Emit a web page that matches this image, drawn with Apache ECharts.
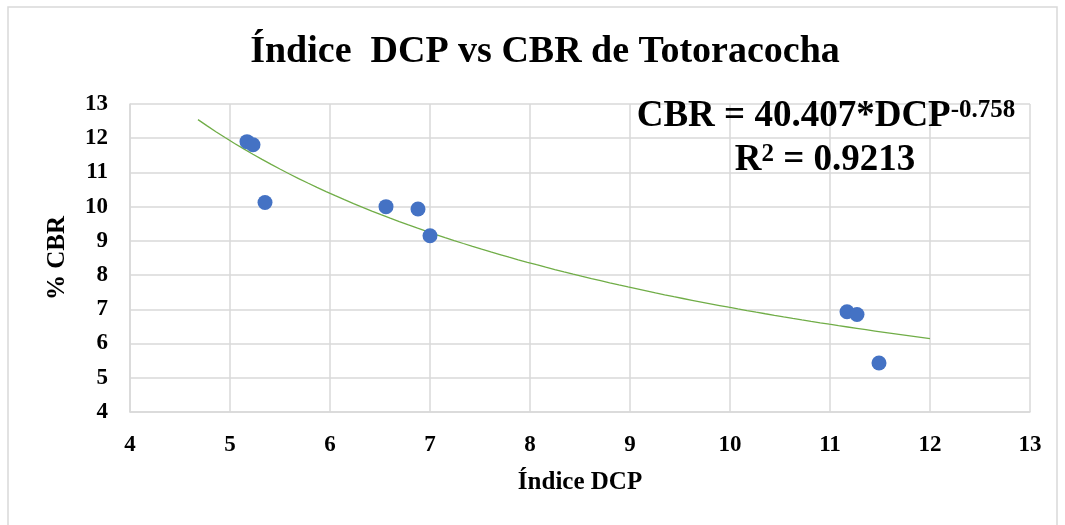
<!DOCTYPE html>
<html>
<head>
<meta charset="utf-8">
<script src="https://cdn.jsdelivr.net/npm/echarts@6/dist/echarts.min.js"></script>
<style>
    html, body { margin: 0; padding: 0; background: #fff; }
    #chart { width: 1065px; height: 525px; }
</style>
</head>
<body>
<div id="chart"></div>
<script>
    // ensayos DCP vs CBR (Totoracocha)
    var dcp = [5.17, 5.23, 5.35, 6.56, 6.88, 7.00, 11.17, 11.27, 11.49];
    var cbr = [11.90, 11.81, 10.12, 10.00, 9.93, 9.15, 6.93, 6.85, 5.43];

    // tendencia potencial que muestra la etiqueta
    var coefA = 40.407;
    var coefB = -0.758;
    var r2 = 0.9213;
    var trendFrom = 4.68;
    var trendTo = 12;

    var xTicks = [4, 5, 6, 7, 8, 9, 10, 11, 12, 13];
    var yTicks = [4, 5, 6, 7, 8, 9, 10, 11, 12, 13];

    var FONT = '"Liberation Serif", "DejaVu Serif", serif';

    var chartDom = document.getElementById('chart');
    var myChart = echarts.init(chartDom);
    var option;

    var points = [];
    for (var i = 0; i < dcp.length; i++) {
        points.push([dcp[i], cbr[i]]);
    }

    var trend = [];
    var steps = 80;
    for (var k = 0; k <= steps; k++) {
        var x = trendFrom + (trendTo - trendFrom) * k / steps;
        trend.push([x, coefA * Math.pow(x, coefB)]);
    }

    option = {
        animation: false,
        backgroundColor: '#fff',
        textStyle: { fontFamily: FONT },
        title: {
            text: 'Índice  DCP vs CBR de Totoracocha',
            left: 540,
            top: 28,
            textAlign: 'center',
            textStyle: {
                fontFamily: FONT,
                fontSize: 38,
                fontWeight: 'bold',
                color: '#000'
            }
        },
        grid: {
            left: 130,
            right: 35,
            top: 104,
            bottom: 113
        },
        xAxis: {
            type: 'value',
            min: xTicks[0],
            max: xTicks[xTicks.length - 1],
            interval: 1,
            name: 'Índice DCP',
            nameLocation: 'middle',
            nameGap: 58,
            nameTextStyle: {
                fontFamily: FONT, fontSize: 25, fontWeight: 'bold', color: '#000'
            },
            axisLine: { show: true, lineStyle: { color: '#d9d9d9', width: 1.5 } },
            axisTick: { show: false },
            axisLabel: {
                margin: 22,
                fontFamily: FONT, fontSize: 23, fontWeight: 'bold', color: '#000'
            },
            splitLine: { show: true, lineStyle: { color: '#d9d9d9', width: 1.5 } }
        },
        yAxis: {
            type: 'value',
            min: yTicks[0],
            max: yTicks[yTicks.length - 1],
            interval: 1,
            name: '% CBR',
            nameLocation: 'middle',
            nameGap: 60,
            nameTextStyle: {
                fontFamily: FONT, fontSize: 25, fontWeight: 'bold', color: '#000'
            },
            axisLine: { show: true, lineStyle: { color: '#d9d9d9', width: 1.5 } },
            axisTick: { show: false },
            axisLabel: {
                margin: 22,
                fontFamily: FONT, fontSize: 23, fontWeight: 'bold', color: '#000'
            },
            splitLine: { show: true, lineStyle: { color: '#d9d9d9', width: 1.5 } }
        },
        series: [
            {
                name: 'Tendencia',
                type: 'line',
                data: trend,
                showSymbol: false,
                smooth: false,
                lineStyle: { color: '#70ad47', width: 1.3 },
                z: 2
            },
            {
                name: 'CBR',
                type: 'scatter',
                data: points,
                symbolSize: 15,
                itemStyle: { color: '#4472c4', opacity: 1 },
                z: 3
            }
        ],
        graphic: [
            {
                type: 'rect',
                shape: { x: 8, y: 7, width: 1049, height: 530 },
                style: { fill: 'none', stroke: '#d9d9d9', lineWidth: 1.5 },
                silent: true
            },
            {
                type: 'text',
                x: 826,
                y: 98,
                style: {
                    text: '{b|CBR = ' + coefA + '*DCP}{s|' + coefB + '}',
                    align: 'center',
                    rich: {
                        b: { fontFamily: FONT, fontSize: 37, fontWeight: 'bold', fill: '#000' },
                        s: { fontFamily: FONT, fontSize: 25, fontWeight: 'bold', fill: '#000', verticalAlign: 'top', padding: [0, 0, 12, 0] }
                    }
                },
                z: 10
            },
            {
                type: 'text',
                x: 825,
                y: 142,
                style: {
                    text: '{b|R}{s|2}{b| = ' + r2 + '}',
                    align: 'center',
                    rich: {
                        b: { fontFamily: FONT, fontSize: 37, fontWeight: 'bold', fill: '#000' },
                        s: { fontFamily: FONT, fontSize: 25, fontWeight: 'bold', fill: '#000', verticalAlign: 'top', padding: [0, 0, 12, 0] }
                    }
                },
                z: 10
            }
        ]
    };

    option && myChart.setOption(option);
</script>
</body>
</html>
